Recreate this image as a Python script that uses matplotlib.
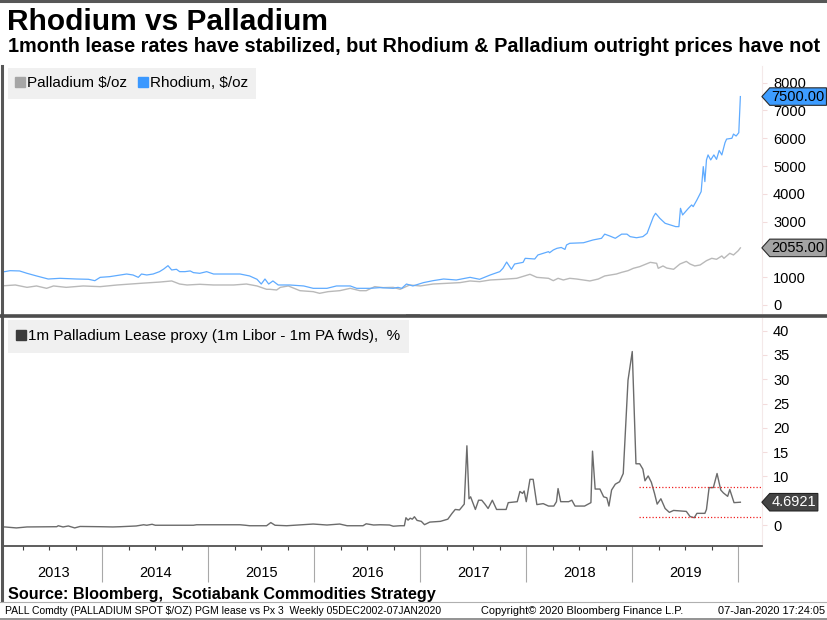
import matplotlib
matplotlib.use('Agg')
import matplotlib.pyplot as plt
from matplotlib.path import Path
from matplotlib.lines import Line2D
from matplotlib.patches import Rectangle
from matplotlib.ticker import FixedLocator, MultipleLocator, NullFormatter

plt.rcParams['font.family'] = ['Liberation Sans', 'DejaVu Sans']

# ---- data (x = decimal years, weekly Bloomberg series) ----
rh_t = [2013.00, 2013.08, 2013.13, 2013.22, 2013.29, 2013.38, 2013.49, 2013.60, 2013.76, 2013.87, 2013.93, 2013.98,
        2014.07, 2014.23, 2014.29, 2014.34, 2014.37, 2014.42, 2014.48, 2014.54, 2014.58, 2014.62, 2014.655, 2014.70,
        2014.73, 2014.78, 2014.83, 2014.86, 2014.92, 2014.985,
        2015.05, 2015.17, 2015.30, 2015.39, 2015.46, 2015.50, 2015.535, 2015.57, 2015.61, 2015.66, 2015.77, 2015.90, 2015.99,
        2016.12, 2016.21, 2016.34, 2016.40, 2016.525, 2016.62, 2016.745, 2016.79, 2016.825, 2016.87, 2016.93,
        2017.03, 2017.12, 2017.22, 2017.34, 2017.47, 2017.56, 2017.66, 2017.75, 2017.78, 2017.815, 2017.86, 2017.89,
        2017.97, 2017.99,
        2018.08, 2018.11, 2018.21, 2018.22, 2018.255, 2018.29, 2018.33, 2018.365, 2018.38, 2018.41, 2018.54, 2018.63,
        2018.71, 2018.74, 2018.79, 2018.84, 2018.90, 2018.95, 2018.98,
        2019.04, 2019.10, 2019.14, 2019.20, 2019.22, 2019.26, 2019.31, 2019.41, 2019.44, 2019.455, 2019.475, 2019.53,
        2019.56, 2019.575, 2019.61, 2019.65, 2019.67, 2019.685, 2019.70, 2019.715, 2019.74, 2019.77, 2019.795, 2019.82,
        2019.845, 2019.875, 2019.89, 2019.94, 2019.955, 2019.98, 2020.005, 2020.02]
rh_val = [1190, 1200, 1235, 1225, 1140, 1045, 935, 960, 935, 925, 875, 995,
          1020, 1115, 1080, 995, 1115, 1080, 1115, 1200, 1295, 1415, 1260, 1285,
          1200, 1200, 1225, 1165, 1140, 1200,
          1115, 1115, 1115, 1045, 925, 755, 935, 755, 865, 720, 720, 685, 600,
          600, 685, 685, 600, 600, 625, 600, 635, 600, 755, 685,
          805, 875, 935, 900, 995, 925, 1080, 1200, 1320, 1545, 1285, 1475,
          1535, 1680,
          1655, 1800, 1920, 1880, 1980, 2040, 2070, 2000, 2160, 2220, 2240, 2340,
          2400, 2550, 2480, 2400, 2550, 2550, 2460,
          2420, 2460, 2580, 3180, 3300, 3120, 2940, 2820, 2820, 3480, 3240, 3480,
          3600, 3540, 3780, 4080, 4980, 4440, 5220, 5400, 5220, 5400, 5240, 5560,
          5400, 5840, 5970, 6000, 6150, 6080, 6200, 7500]

pd_t = [2013.00, 2013.08, 2013.18, 2013.29, 2013.38, 2013.475, 2013.54, 2013.66, 2013.82, 2013.98,
        2014.14, 2014.36, 2014.54, 2014.655, 2014.73, 2014.80, 2014.92,
        2015.05, 2015.24, 2015.36, 2015.46, 2015.55, 2015.58, 2015.645, 2015.68, 2015.755, 2015.865, 2015.99,
        2016.05, 2016.13, 2016.24, 2016.34, 2016.43, 2016.49, 2016.57, 2016.65, 2016.745, 2016.81, 2016.90,
        2017.00, 2017.12, 2017.25, 2017.375, 2017.47, 2017.56, 2017.66, 2017.78, 2017.91,
        2018.035, 2018.10, 2018.21, 2018.255, 2018.30, 2018.35, 2018.41, 2018.475, 2018.60, 2018.68, 2018.74,
        2018.85, 2018.90, 2018.96,
        2019.01, 2019.07, 2019.17, 2019.23, 2019.245, 2019.29, 2019.325, 2019.39, 2019.42, 2019.45, 2019.51,
        2019.545, 2019.59, 2019.64, 2019.70, 2019.75, 2019.795, 2019.845, 2019.865, 2019.92, 2019.955, 2020.00, 2020.02]
pd_val = [700, 695, 720, 635, 685, 600, 685, 635, 685, 660,
          720, 780, 825, 865, 755, 720, 745,
          720, 720, 755, 685, 565, 565, 540, 635, 685, 515, 480,
          420, 480, 515, 600, 515, 515, 660, 625, 635, 565, 720,
          685, 755, 780, 805, 865, 840, 900, 925, 960,
          1105, 995, 960, 875, 960, 900, 960, 935, 865, 935, 1045,
          1115, 1175, 1235,
          1320, 1380, 1535, 1500, 1320, 1405, 1330, 1285, 1380, 1475, 1570,
          1475, 1405, 1440, 1595, 1680, 1645, 1765, 1680, 1860, 1800, 1955, 2055]

lease_t = [2013.00, 2013.08, 2013.19, 2013.29, 2013.57, 2013.585, 2013.63, 2013.68, 2013.74, 2013.79, 2013.98,
           2014.10, 2014.17, 2014.32, 2014.39, 2014.42, 2014.47, 2014.50, 2014.86, 2014.89,
           2015.30, 2015.35, 2015.39, 2015.55, 2015.59, 2015.63, 2015.74, 2015.99,
           2016.12, 2016.24, 2016.31, 2016.46, 2016.49, 2016.56, 2016.62, 2016.71, 2016.745, 2016.81, 2016.85,
           2016.865, 2016.885, 2016.905, 2016.925, 2016.945, 2016.97,
           2017.01, 2017.04, 2017.09, 2017.19, 2017.26, 2017.30, 2017.33, 2017.37, 2017.415, 2017.44, 2017.46,
           2017.475, 2017.52, 2017.55, 2017.58, 2017.61, 2017.64, 2017.68, 2017.72, 2017.81, 2017.83, 2017.915,
           2017.94, 2017.965, 2017.98,
           2018.00, 2018.035, 2018.065, 2018.10, 2018.16, 2018.21, 2018.26, 2018.285, 2018.30, 2018.325, 2018.40,
           2018.43, 2018.46, 2018.55, 2018.61, 2018.625, 2018.65, 2018.695, 2018.73, 2018.76, 2018.78, 2018.805,
           2018.84, 2018.88, 2018.915, 2018.96,
           2019.00, 2019.035, 2019.07, 2019.10, 2019.12, 2019.15, 2019.18, 2019.21, 2019.235, 2019.27, 2019.31,
           2019.35, 2019.39, 2019.45, 2019.51, 2019.545, 2019.585, 2019.61, 2019.685, 2019.70, 2019.725, 2019.765,
           2019.80, 2019.835, 2019.86, 2019.90, 2019.92, 2019.96, 2020.02]
lease_val = [-0.4, -0.4, -0.6, -0.4, -0.35, -0.15, -0.4, -0.2, -0.6, -0.3, -0.35,
             -0.4, -0.35, -0.2, 0.05, -0.05, 0.15, -0.05, -0.05, 0.05,
             0.05, -0.05, -0.15, -0.15, 0.5, -0.05, -0.15, 0.2,
             0.0, 0.2, -0.15, -0.15, 0.25, 0.0, 0.05, 0.0, -0.25, -0.15, -0.15,
             1.5, 1.0, 1.4, 1.2, 1.7, 0.95,
             0.75, 0.07, 0.6, 0.75, 1.2, 2.4, 3.2, 3.1, 4.3, 16.3, 5.4,
             5.8, 3.2, 5.1, 5.1, 4.3, 3.4, 5.1, 3.2, 3.2, 4.6, 4.8,
             6.9, 6.5, 7.0,
             4.8, 9.4, 9.4, 4.2, 4.4, 3.9, 3.9, 4.8, 7.5, 4.8, 4.8,
             5.1, 3.9, 3.9, 4.6, 15.2, 7.4, 7.4, 5.8, 5.6, 3.9, 7.2,
             8.4, 8.9, 10.6, 29.8,
             35.7, 12.6, 12.6, 11.5, 9.1, 10.1, 8.8, 6.5, 4.3, 5.4, 3.4,
             2.6, 3.0, 2.9, 2.8, 1.75, 1.5, 2.4, 2.4, 3.2, 7.7, 7.7,
             10.6, 7.2, 6.6, 5.9, 7.3, 4.6, 4.69]

band_levels = [7.8, 1.7]      # red dotted range lines on the lease panel
band_start = 2019.06
years = [2013, 2014, 2015, 2016, 2017, 2018, 2019]
upper_ticks = [0, 1000, 2000, 3000, 4000, 5000, 6000, 7000, 8000]
lower_ticks = [0, 5, 10, 15, 20, 25, 30, 35, 40]
hidden_upper = [2000]   # tick labels covered by the last-value tags
hidden_lower = [5]
last_rh, last_pd, last_lease = 7500.00, 2055.00, 4.6921

# ---- layout ----
W, H = 827, 620
fig = plt.figure(figsize=(W / 100, H / 100), dpi=100)


def box(l, t, r, b):
    return [l / W, 1 - b / H, (r - l) / W, (b - t) / H]


def tag_shape(x0, y0, width, height, mutation_size):
    # Bloomberg style last-value tag: box with a point on its left side
    pad = 0.12 * mutation_size
    x0, y0 = x0 - pad, y0 - pad
    x1, y1 = x0 + width + 2 * pad, y0 + height + 2 * pad
    tip = 0.45 * (y1 - y0)
    ym = (y0 + y1) / 2
    return Path([(x0 - tip, ym), (x0, y0), (x1, y0), (x1, y1), (x0, y1), (x0 - tip, ym)], closed=True)


xlim = (2013.073, 2020.224)
ax1 = fig.add_axes(box(4, 66, 762, 313))
ax2 = fig.add_axes(box(4, 318, 762, 546))

# upper panel
ax1.plot(pd_t, pd_val, color='#b9b9b9', lw=1.0)
ax1.plot(rh_t, rh_val, color='#5fabff', lw=0.9)
ax1.set_xlim(*xlim)
ax1.set_ylim(-288, 8600)
ax1.set_yticks(upper_ticks, ['' if v in hidden_upper else str(v) for v in upper_ticks])
ax1.set_xticks([])

# lower panel
ax2.plot(lease_t, lease_val, color='#6b6b6b', lw=1.0)
for lvl in band_levels:
    ax2.hlines(lvl, band_start, xlim[1], colors='#f02020', linestyles=(0, (1, 1.6)), lw=0.9)
ax2.set_xlim(*xlim)
ax2.set_ylim(-4.32, 42.6)
ax2.set_yticks(lower_ticks, ['' if v in hidden_lower else str(v) for v in lower_ticks])

for ax in (ax1, ax2):
    ax.yaxis.tick_right()
    ax.tick_params(axis='y', length=3.6, width=0.8, color='#f3dcdc', pad=4.3, labelsize=10.5)
    for s in ('top', 'left', 'bottom'):
        ax.spines[s].set_visible(False)
    ax.spines['right'].set_color('#f4e9e9')
    ax.spines['right'].set_linewidth(0.8)

ax2.spines['bottom'].set_visible(True)
ax2.spines['bottom'].set_color('#505050')
ax2.spines['bottom'].set_linewidth(1.3)
ax2.xaxis.set_major_locator(FixedLocator([y + 1 for y in years]))
ax2.xaxis.set_minor_locator(MultipleLocator(0.25))
ax2.xaxis.set_major_formatter(NullFormatter())
ax2.tick_params(axis='x', which='major', length=26, width=0.8, color='#a8a8a8')
ax2.tick_params(axis='x', which='minor', length=3.2, width=0.8, color='#404040')
for y in years:
    lo, hi = max(y, xlim[0]), min(y + 1, xlim[1])
    ax2.text((lo + hi) / 2, -0.118, str(y), transform=ax2.get_xaxis_transform(),
             ha='center', va='center', fontsize=10.5)

# legends
leg1 = ax1.legend(handles=[Line2D([], [], ls='none', marker='s', ms=6.5, color='#a6a6a6'),
                           Line2D([], [], ls='none', marker='s', ms=6.5, color='#3a98ff')],
                  labels=['Palladium $/oz', 'Rhodium, $/oz'], loc='upper left',
                  bbox_to_anchor=(0.005, 0.992), ncol=2, frameon=True, fancybox=False,
                  facecolor='#f0f0f0', edgecolor='none', framealpha=1, fontsize=11,
                  handlelength=0.5, handletextpad=0.2, columnspacing=0.8, borderpad=0.55,
                  borderaxespad=0)
leg2 = ax2.legend(handles=[Line2D([], [], ls='none', marker='s', ms=6.5, color='#3c3c3c')],
                  labels=['1m Palladium Lease proxy (1m Libor - 1m PA fwds),  %'], loc='upper left',
                  bbox_to_anchor=(0.005, 0.99), frameon=True, fancybox=False,
                  facecolor='#f0f0f0', edgecolor='none', framealpha=1, fontsize=11,
                  handlelength=0.5, handletextpad=0.2, borderpad=0.6, borderaxespad=0)

# last value tags
tag_x = 1.0125
ax1.text(tag_x, last_rh, f'{last_rh:.2f}', transform=ax1.get_yaxis_transform(), ha='left', va='center',
         fontsize=10.5, color='black', clip_on=False,
         bbox=dict(boxstyle=tag_shape, fc='#3d9cff', ec='#2a2a2a', lw=0.8))
ax1.text(tag_x, last_pd, f'{last_pd:.2f}', transform=ax1.get_yaxis_transform(), ha='left', va='center',
         fontsize=10.5, color='black', clip_on=False,
         bbox=dict(boxstyle=tag_shape, fc='#a3a3a3', ec='#2a2a2a', lw=0.8))
ax2.text(tag_x, last_lease, f'{last_lease:.4f}', transform=ax2.get_yaxis_transform(), ha='left', va='center',
         fontsize=10.5, color='white', clip_on=False,
         bbox=dict(boxstyle=tag_shape, fc='#444444', ec='#222222', lw=0.8))

# frame lines of the Bloomberg window
fig.add_artist(Line2D([0, 1], [1 - 1.2 / H] * 2, transform=fig.transFigure, color='#575757', lw=2.2))
fig.add_artist(Line2D([2 / W] * 2, [1 - 66 / H, 1 - 600 / H], transform=fig.transFigure, color='#575757', lw=2.2))
fig.add_artist(Line2D([0, 1], [1 - 315.5 / H] * 2, transform=fig.transFigure, color='#4d4d4d', lw=2.6))
fig.add_artist(Rectangle((406 / W, 1 - 317 / H), 14 / W, 3 / H, transform=fig.transFigure,
                         color='#9c9c9c', lw=0))
fig.add_artist(Line2D([0, 1], [1 - 601.5 / H] * 2, transform=fig.transFigure, color='#b0b0b0', lw=0.8))
fig.add_artist(Line2D([0, 1], [1 - 618.8 / H] * 2, transform=fig.transFigure, color='#808080', lw=1.2))

# titles and notes
fig.text(7 / W, 1 - 30 / H, 'Rhodium vs Palladium', fontsize=21.5, fontweight='bold', va='baseline')
fig.text(8 / W, 1 - 52 / H,
         '1month lease rates have stabilized, but Rhodium & Palladium outright prices have not',
         fontsize=14.3, fontweight='bold', va='baseline')
fig.text(8 / W, 1 - 594 / H, 'Source: Bloomberg,  Scotiabank Commodities Strategy',
         fontsize=11.7, fontweight='bold', va='center')
fig.text(5 / W, 1 - 610.5 / H,
         'PALL Comdty (PALLADIUM SPOT $/OZ) PGM lease vs Px 3  Weekly 05DEC2002-07JAN2020',
         fontsize=7.5, va='center')
fig.text(481 / W, 1 - 610.5 / H, 'Copyright\u00a9 2020 Bloomberg Finance L.P.', fontsize=7.9, va='center')
fig.text(825 / W, 1 - 610.5 / H, '07-Jan-2020 17:24:05', fontsize=7.9, va='center', ha='right')

fig.savefig('out.png', dpi=100)
